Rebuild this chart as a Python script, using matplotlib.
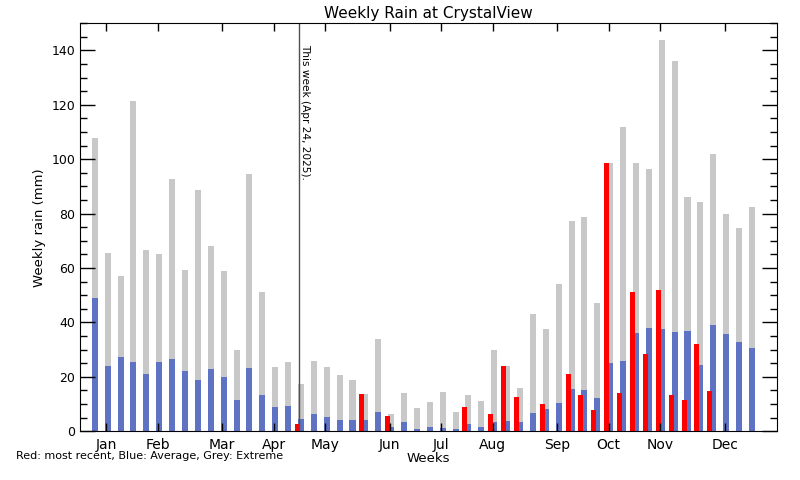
import numpy as np
import matplotlib
matplotlib.use("Agg")
import matplotlib.pyplot as plt
from matplotlib.ticker import MultipleLocator

# weekly rain (mm), one value per week of the year
extreme = [107.7, 65.5, 57.0, 121.6, 66.6, 65.2, 92.6, 59.2, 88.6, 68.0,
           58.9, 29.9, 94.5, 51.2, 23.6, 25.5, 17.4, 25.8, 23.6, 20.7,
           18.9, 13.7, 33.9, 6.5, 14.0, 8.4, 10.6, 14.3, 7.1, 13.3,
           11.1, 29.9, 24.0, 15.9, 43.1, 37.6, 54.1, 77.2, 78.7, 47.1,
           98.5, 111.7, 98.5, 96.3, 144.0, 136.3, 86.0, 84.2, 101.8, 79.8,
           74.7, 82.3]
average = [49.0, 24.0, 27.3, 25.5, 21.0, 25.5, 26.6, 22.1, 18.9, 22.8,
           19.9, 11.5, 23.3, 13.3, 8.9, 9.3, 4.5, 6.4, 5.3, 4.2,
           4.2, 4.2, 7.1, 1.7, 3.5, 0.9, 1.6, 1.2, 0.9, 2.7,
           1.6, 3.5, 3.8, 3.5, 6.7, 8.2, 10.4, 15.5, 15.2, 12.2,
           25.1, 25.8, 36.1, 37.9, 37.6, 36.5, 36.8, 24.4, 39.1, 35.7,
           32.8, 30.6]
recent = [0, 0, 0, 0, 0, 0, 0, 0, 0, 0,
          0, 0, 0, 0, 0, 0, 2.7, 0, 0, 0,
          0, 13.7, 0, 5.8, 0, 0, 0, 0, 0, 8.9,
          0, 6.4, 24.0, 12.6, 0, 10.0, 0, 21.0, 13.3, 7.8,
          98.5, 14.0, 51.2, 28.4, 51.9, 13.3, 11.5, 32.1, 14.8, 0,
          0, 0]

months = ["Jan", "Feb", "Mar", "Apr", "May", "Jun",
          "Jul", "Aug", "Sep", "Oct", "Nov", "Dec"]
month_pos = [1.88, 5.88, 10.88, 14.88, 18.88, 23.88,
             27.88, 31.88, 36.88, 40.88, 44.88, 49.88]
this_week = 16.87
this_week_label = "This week (Apr 24, 2025)."

plt.rcParams["font.family"] = ["DejaVu Sans"]

weeks = np.arange(1, len(extreme) + 1)

fig = plt.figure(figsize=(8, 4.8), dpi=100)
ax = fig.add_axes([0.1, 0.1015, 0.8713, 0.85])

ax.bar(weeks, extreme, width=0.47, color="#c8c8c8")
ax.bar(weeks, average, width=0.47, color="#5f73c5")
ax.bar(weeks - 0.27, recent, width=0.39, color="#ff0000")

# marker for the current week
ax.axvline(this_week, color="#505050", lw=1)
ax.text(this_week + 0.1, 142.5, this_week_label, rotation=-90, fontsize=7.6,
        ha="left", va="top")

ax.set_xlim(-0.15, 53.95)
ax.set_ylim(0, 150)

ax.yaxis.set_major_locator(MultipleLocator(20))
ax.yaxis.set_minor_locator(MultipleLocator(5))
ax.tick_params(axis="y", which="major", direction="in", length=11, width=1,
               left=True, right=True, labelsize=9)
ax.tick_params(axis="y", which="minor", direction="in", length=5, width=1,
               left=True, right=True)
ax.set_xticks(month_pos)
ax.set_xticklabels(months)
ax.tick_params(axis="x", which="major", direction="in", length=6, width=1,
               top=True, bottom=True, labelsize=10, pad=5)

ax.set_title("Weekly Rain at CrystalView", fontsize=11, pad=4)
ax.set_ylabel("Weekly rain (mm)", fontsize=9.5)
ax.set_xlabel("Weeks", fontsize=9.5, labelpad=0)

fig.text(0.02, 0.0604, "Red: most recent, Blue: Average, Grey: Extreme",
         fontsize=8, va="top")

fig.savefig("out.png", dpi=100)
